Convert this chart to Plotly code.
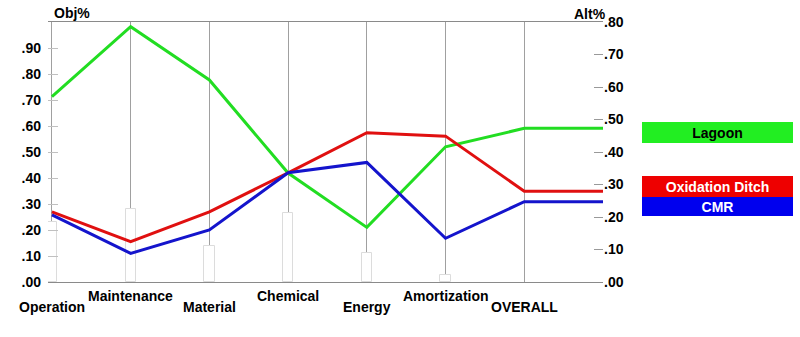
import plotly.graph_objects as go

categories = ["Operation", "Maintenance", "Material", "Chemical", "Energy", "Amortization", "OVERALL"]
obj_weights = [0.23, 0.28, 0.14, 0.265, 0.11, 0.027]
lagoon = [0.713, 0.982, 0.777, 0.419, 0.21, 0.52, 0.591]
oxidation_ditch = [0.27, 0.155, 0.27, 0.42, 0.574, 0.561, 0.349]
cmr = [0.258, 0.11, 0.20, 0.42, 0.46, 0.168, 0.309]
left_ticks = [0.0, 0.1, 0.2, 0.3, 0.4, 0.5, 0.6, 0.7, 0.8, 0.9]
left_labels = [".00", ".10", ".20", ".30", ".40", ".50", ".60", ".70", ".80", ".90"]
right_ticks = [0.0, 0.1, 0.2, 0.3, 0.4, 0.5, 0.6, 0.7, 0.8]
right_labels = [".00", ".10", ".20", ".30", ".40", ".50", ".60", ".70", ".80"]
series_names = ["Lagoon", "Oxidation Ditch", "CMR"]

FONT = "Liberation Sans"
line_colors = ["#22dd22", "#e01010", "#1414cc"]
box_colors = ["#22ee22", "#ee0000", "#0000ee"]
box_text = ["black", "white", "white"]

xs = list(range(len(categories)))
fig = go.Figure()

fig.add_trace(go.Bar(
    x=xs[:len(obj_weights)], y=obj_weights, width=0.13,
    marker=dict(color="white", line=dict(color="#dcdcdc", width=1)),
    showlegend=False, hoverinfo="skip",
))

for name, vals, col in zip(series_names, [lagoon, oxidation_ditch, cmr], line_colors):
    fig.add_trace(go.Scatter(
        x=xs + [len(categories)], y=vals + [vals[-1]],
        mode="lines", line=dict(color=col, width=3),
        name=name, showlegend=False,
    ))

fig.add_trace(go.Scatter(x=[None], y=[None], yaxis="y2", showlegend=False, hoverinfo="skip"))

fig.update_layout(
    width=800, height=337,
    margin=dict(l=48, r=197, t=22, b=55),
    paper_bgcolor="white", plot_bgcolor="white",
    font=dict(family=FONT, size=14, color="black"),
    xaxis=dict(
        range=[-0.05, len(categories)], tickvals=xs, showticklabels=False,
        showgrid=True, gridcolor="#a0a0a0", gridwidth=1,
        showline=True, linecolor="#8a8a8a", linewidth=1, mirror=True,
        zeroline=False, ticks="",
    ),
    yaxis=dict(
        range=[0, 1.0], tickvals=left_ticks, ticktext=left_labels,
        showgrid=False, zeroline=False, showline=False,
        ticks="inside", ticklen=10, tickcolor="#c0c0c0",
        tickfont=dict(family=FONT, size=14, color="black", weight="bold"),
        ticklabelstandoff=6,
    ),
    yaxis2=dict(
        range=[0, 0.8], tickvals=right_ticks, ticktext=right_labels,
        overlaying="y", side="right",
        showgrid=False, zeroline=False, showline=False,
        ticks="inside", ticklen=9, tickcolor="#999999",
        tickfont=dict(family=FONT, size=14, color="black", weight="bold"),
        ticklabelstandoff=0,
    ),
    bargap=0,
)

ann = []
for i, c in enumerate(categories):
    ann.append(dict(
        x=i, y=-0.054 if i % 2 == 1 else -0.096, xref="x", yref="paper",
        text="<b>%s</b>" % c, showarrow=False, xanchor="center", yanchor="middle",
        font=dict(family=FONT, size=14, color="black"),
    ))
ann.append(dict(x=0.007, y=1.035, xref="paper", yref="paper", text="<b>Obj%</b>",
                showarrow=False, xanchor="left", yanchor="middle",
                font=dict(family=FONT, size=14, color="black")))
ann.append(dict(x=1.009, y=1.031, xref="paper", yref="paper", text="<b>Alt%</b>",
                showarrow=False, xanchor="right", yanchor="middle",
                font=dict(family=FONT, size=14, color="black")))

box_y = [0.575, 0.368, 0.29]
box_h = [21, 21, 19]
for name, by, bh, bc, tc in zip(series_names, box_y, box_h, box_colors, box_text):
    ann.append(dict(
        x=1.206, y=by, xref="paper", yref="paper", text="<b>%s</b>" % name,
        showarrow=False, xanchor="center", yanchor="middle",
        width=151, height=bh, bgcolor=bc, borderpad=0, borderwidth=0,
        font=dict(family=FONT, size=14, color=tc),
    ))
fig.update_layout(annotations=ann)

fig.write_html("out.html")
